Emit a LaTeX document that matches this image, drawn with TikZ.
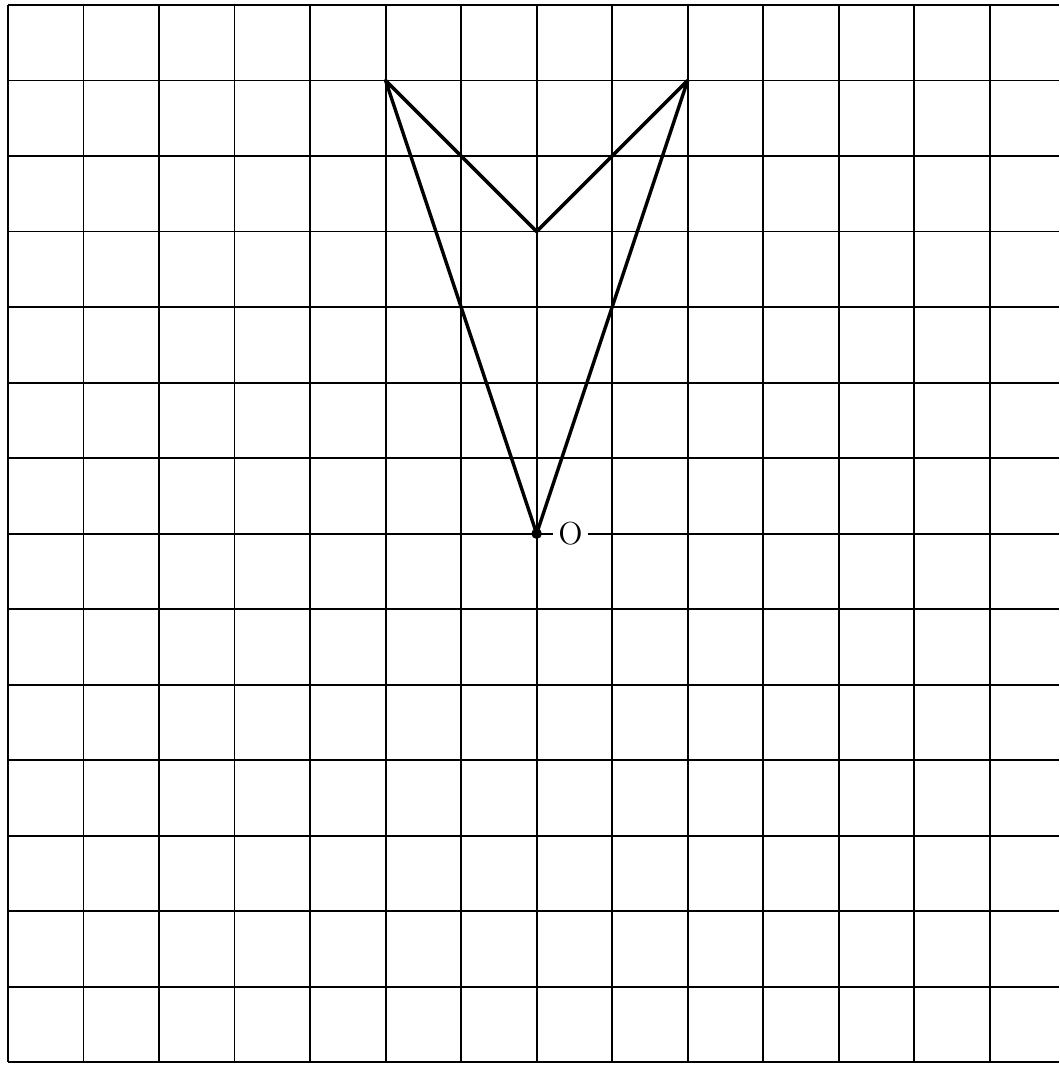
\documentclass[tikz,border=0pt]{standalone}
\begin{document}
\begin{tikzpicture}[x=1cm,y=1cm,
  gridline/.style={line width=0.7pt,black},
  shapeline/.style={line width=1.3pt,black,line join=round},
  lbl/.style={fill=white,inner sep=2pt,font=\large}]
\useasboundingbox (-0.106,0.066) rectangle (13.92,-14.05);
\foreach \i in {0,...,13} \draw[gridline] (\i,0) -- (\i,-14);
\foreach \j in {0,...,14} \draw[gridline] (0,-\j) -- (13.92,-\j);
\coordinate (A) at (5,-1);
\coordinate (B) at (9,-1);
\coordinate (C) at (7,-3);
\coordinate (O) at (7,-7);
\draw[shapeline] (A) -- (C) -- (B) -- (O) -- cycle;
\fill (O) circle (0.07);
\node[lbl] (Olab) at (7.45,-7) {O};
\end{tikzpicture}
\end{document}
